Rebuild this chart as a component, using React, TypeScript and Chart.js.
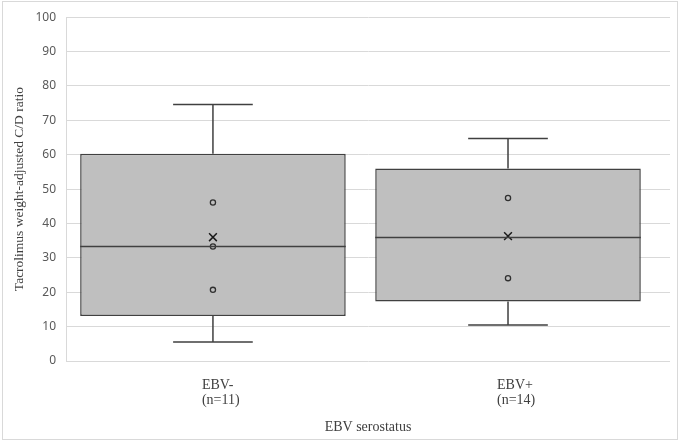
import React, { useEffect, useRef } from "react";
import { Chart, registerables } from "chart.js";

Chart.register(...registerables);

const categories = [["EBV-", "(n=11)"], ["EBV+", "(n=14)"]];
const q1 = [13.1, 17.3];
const q3 = [60.3, 56.0];
const medians = [33.3, 35.9];
const whiskerLow = [5.5, 10.5];
const whiskerHigh = [74.6, 64.7];
const means = [36.0, 36.3];
const innerPoints = [
  [46.1, 33.3, 20.7],
  [47.4, 24.1],
];
const yTicksMax = 100;
const yStep = 10;

const boxPlugin = {
  id: "boxExtras",
  afterDatasetsDraw(chart: any) {
    const { ctx } = chart;
    const y = chart.scales.y;
    const meta = chart.getDatasetMeta(0);
    ctx.save();
    ctx.strokeStyle = "#404040";
    ctx.lineWidth = 1.5;
    meta.data.forEach((bar: any, i: number) => {
      const cx = bar.x;
      const half = bar.width / 2;
      const capHalf = bar.width * 0.15;
      const yq1 = y.getPixelForValue(q1[i]);
      const yq3 = y.getPixelForValue(q3[i]);
      const ylo = y.getPixelForValue(whiskerLow[i]);
      const yhi = y.getPixelForValue(whiskerHigh[i]);
      const ymed = y.getPixelForValue(medians[i]);
      ctx.beginPath();
      ctx.moveTo(cx, yq3);
      ctx.lineTo(cx, yhi);
      ctx.moveTo(cx - capHalf, yhi);
      ctx.lineTo(cx + capHalf, yhi);
      ctx.moveTo(cx, yq1);
      ctx.lineTo(cx, ylo);
      ctx.moveTo(cx - capHalf, ylo);
      ctx.lineTo(cx + capHalf, ylo);
      ctx.moveTo(cx - half, ymed);
      ctx.lineTo(cx + half, ymed);
      ctx.stroke();
    });
    ctx.restore();
  },
  afterDraw(chart: any) {
    const { ctx } = chart;
    ctx.save();
    ctx.strokeStyle = "#d9d9d9";
    ctx.lineWidth = 1;
    ctx.strokeRect(2.5, 1.5, 675, 438);
    ctx.restore();
  },
};

export default function App() {
  const ref = useRef<HTMLCanvasElement>(null);
  useEffect(() => {
    document.body.style.margin = "0";
    const pointData: any[] = [];
    innerPoints.forEach((arr, i) => arr.forEach((v) => pointData.push({ x: i, y: v })));
    const meanData = means.map((v, i) => ({ x: i, y: v }));
    const boxData = q1.map((v, i) => ({ x: i, y: [v, q3[i]] }));
    const chart = new Chart(ref.current!, {
      type: "bar",
      data: {
        datasets: [
          {
            type: "bar",
            data: boxData,
            backgroundColor: "#bfbfbf",
            borderColor: "#404040",
            borderWidth: 1.5,
            borderSkipped: false,
            categoryPercentage: 0.9,
            barPercentage: 1,
            order: 2,
          } as any,
          {
            type: "line",
            data: pointData,
            showLine: false,
            pointStyle: "circle",
            pointRadius: 2.6,
            pointBackgroundColor: "rgba(0,0,0,0)",
            pointBorderColor: "#303030",
            pointBorderWidth: 1.3,
            order: 0,
          } as any,
          {
            type: "line",
            data: meanData,
            showLine: false,
            pointStyle: "crossRot",
            pointRadius: 5.5,
            pointBorderColor: "#1a1a1a",
            pointBorderWidth: 1.5,
            order: 0,
          } as any,
        ],
      },
      options: {
        animation: false,
        responsive: false,
        layout: { padding: { left: 11, right: 10, top: 10, bottom: 6 } },
        plugins: { legend: { display: false }, tooltip: { enabled: false } },
        scales: {
          x: {
            type: "linear",
            min: -0.498,
            max: 1.549,
            offset: false,
            grid: { display: false },
            border: { display: false },
            afterBuildTicks: (s: any) => {
              s.ticks = categories.map((_c, i) => ({ value: i }));
            },
            ticks: {
              color: "#404040",
              font: { family: "Liberation Serif", size: 14, lineHeight: 1.05 },
              padding: 9,
              maxRotation: 0,
              autoSkip: false,
              align: "start",
              labelOffset: -11,
              callback: (v: any) => categories[v] ?? "",
            },
            title: {
              display: true,
              text: "EBV serostatus",
              color: "#404040",
              font: { family: "Liberation Serif", size: 14 },
              padding: { top: 0, bottom: 0 },
            },
            afterFit: (s: any) => {
              s.height = 75;
            },
          },
          y: {
            min: 0,
            max: yTicksMax,
            ticks: {
              stepSize: yStep,
              color: "#595959",
              font: { family: "Noto Sans", size: 12 },
              padding: 10,
            },
            grid: { color: "#d9d9d9", lineWidth: 1, drawTicks: false },
            border: { display: true, color: "#d9d9d9" },
            title: {
              display: true,
              text: "Tacrolimus weight-adjusted C/D ratio",
              color: "#404040",
              font: { family: "Liberation Serif", size: 13.5 },
              padding: { top: 0, bottom: 0 },
            },
            afterFit: (s: any) => {
              s.width = 55;
            },
          },
        },
      },
      plugins: [boxPlugin],
    });
    return () => chart.destroy();
  }, []);
  return <canvas ref={ref} width={680} height={442} style={{ display: "block" }} />;
}
